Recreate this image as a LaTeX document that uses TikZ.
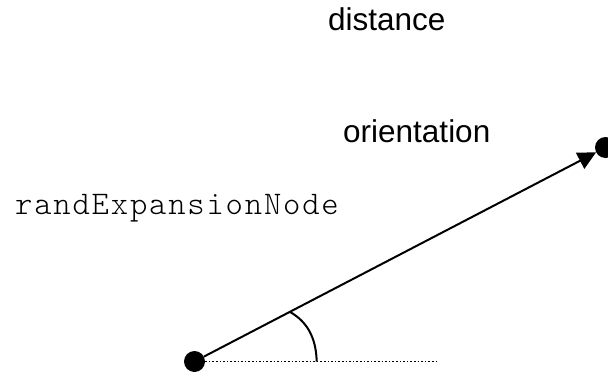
\documentclass[tikz,border=0pt]{standalone}
\usepackage{fontspec}
\setmainfont{Liberation Sans}
\newfontfamily\codefont[LetterSpace=5.5]{lmmonolt10-regular.otf}
\usetikzlibrary{arrows.meta,calc}
\begin{document}
\begin{tikzpicture}[x=1pt,y=-1pt,
  dot/.style={circle,fill=black,inner sep=0pt,minimum size=21pt},
  label/.style={inner sep=0pt,anchor=base west,font=\fontsize{31.5}{36}\selectfont},
  codelabel/.style={label,font=\codefont\fontsize{33}{38}\selectfont},
  vector/.style={line width=2pt,-{Triangle[length=18pt,width=18pt]}},
  baseline/.style={line width=1.3pt,dash pattern=on 1.5pt off 2.1pt},
  anglearc/.style={line width=2pt}]
  \useasboundingbox (0,0) rectangle (608,372);

  % start and end points of the expansion step
  \node[dot] (s) at (194.5,361.5) {};
  \node[dot] (e) at (605.5,147.5) {};

  % labels
  \node[label] (dist) at (328,30) {distance};
  \node[label] (orient) at (343,142) {orientation};
  \node[codelabel] (rnode) at (15,214) {randExpansionNode};

  % step vector and horizontal reference
  \draw[vector] (s) -- (e);
  \coordinate (h) at (436,361.5);
  \draw[baseline] (s.east) -- (h);

  % orientation angle
  \coordinate (a0) at ($(s)!0.232!(e)$);
  \coordinate (a1) at (316.7,361.5);
  \draw[anglearc] (a0) .. controls (306,321) and (316,336) .. (a1);
\end{tikzpicture}
\end{document}
